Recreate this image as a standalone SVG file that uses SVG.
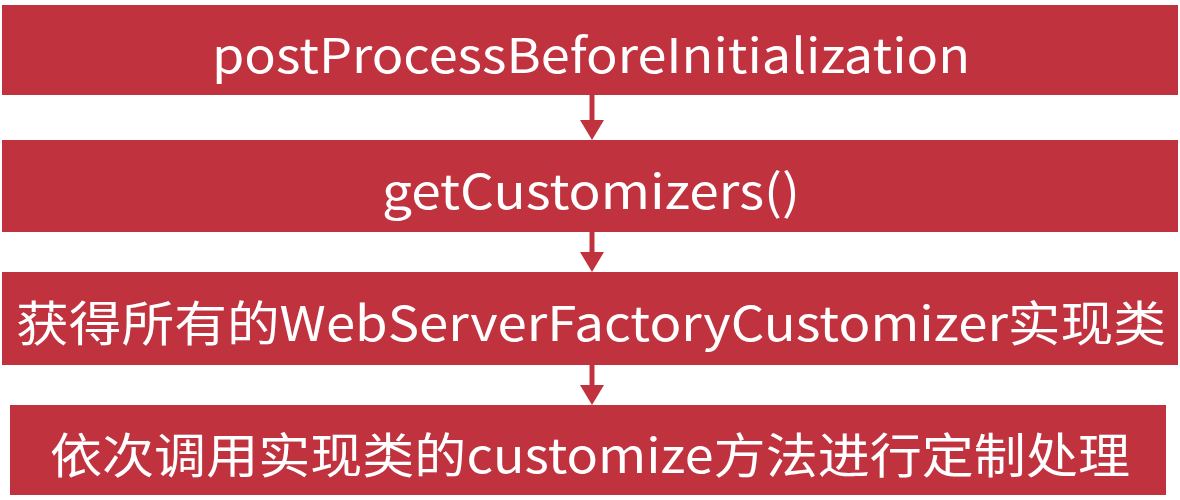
<svg xmlns="http://www.w3.org/2000/svg" width="1180" height="500" viewBox="0 0 1180 500">
<style>
.box{fill:#c1323f}
.t{fill:#fff;font-family:"Noto Sans CJK SC","Noto Sans",sans-serif;font-size:48px;text-anchor:middle;dominant-baseline:central}
.c{stroke:#c1323f;stroke-width:5;fill:none}
.h{fill:#c1323f}
</style>
<rect width="1180" height="500" fill="#fff"/>
<g id="n1"><rect class="box" x="2" y="5" width="1176" height="90"/><text class="t" x="591" y="52" textLength="758" lengthAdjust="spacingAndGlyphs">postProcessBeforeInitialization</text></g>
<g id="n2"><rect class="box" x="2" y="140" width="1176" height="92"/><text class="t" x="591" y="188" textLength="418" lengthAdjust="spacingAndGlyphs">getCustomizers()</text></g>
<g id="n3"><rect class="box" x="2" y="272" width="1176" height="93"/><text class="t" x="591" y="320" textLength="1150" lengthAdjust="spacingAndGlyphs">获得所有的WebServerFactoryCustomizer实现类</text></g>
<g id="n4"><rect class="box" x="10" y="405" width="1156" height="90"/><text class="t" x="590" y="452" textLength="1080" lengthAdjust="spacingAndGlyphs">依次调用实现类的customize方法进行定制处理</text></g>
<g id="connectors">
<line class="c" x1="592" y1="95" x2="592" y2="122"/><polygon class="h" points="580,120 604,120 592,140"/>
<line class="c" x1="592" y1="232" x2="592" y2="254"/><polygon class="h" points="580,252 604,252 592,272"/>
<line class="c" x1="592" y1="365" x2="592" y2="387"/><polygon class="h" points="580,385 604,385 592,405"/>
</g>
</svg>
